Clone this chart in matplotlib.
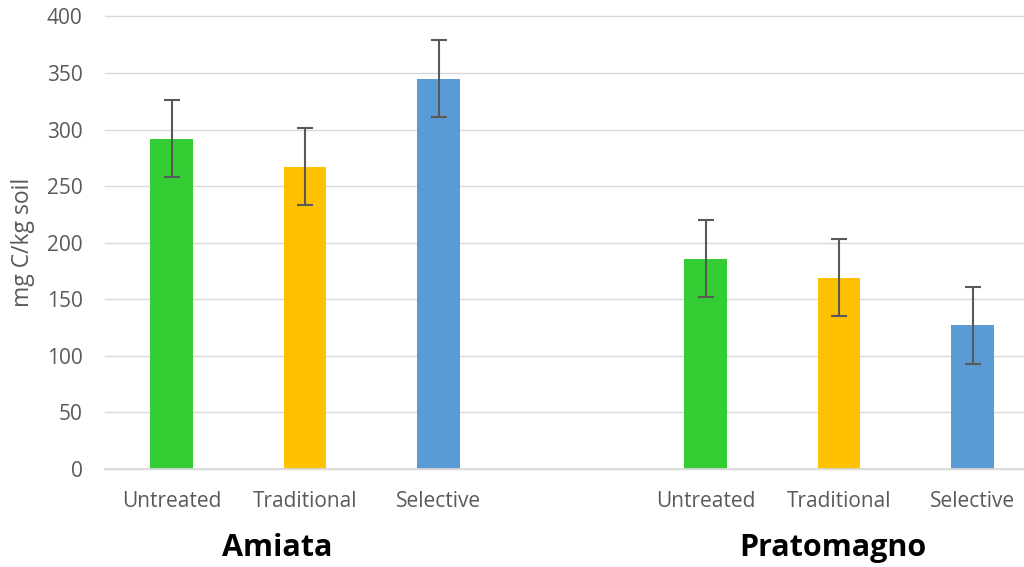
import matplotlib.pyplot as plt
import numpy as np

# data
treatments = ['Untreated', 'Traditional', 'Selective']
sites = ['Amiata', 'Pratomagno']
amiata = [292, 267, 345]
amiata_err = [34, 34, 34]
pratomagno = [186, 169, 127]
pratomagno_err = [34, 34, 34]
colors = ['#33CC33', '#FFC000', '#5B9BD5']

plt.rcParams['font.family'] = ['Open Sans', 'DejaVu Sans']
text_col = '#595959'

fig = plt.figure(figsize=(10.24, 5.67), dpi=100)
ax = fig.add_axes([104.75 / 1024, 1 - 469 / 567, 934.5 / 1024, 452.5 / 567])

# one empty slot between the two sites
x_am = np.arange(3)
x_pr = np.arange(3) + 4
ax.bar(x_am, amiata, width=0.32, color=colors, zorder=2)
ax.bar(x_pr, pratomagno, width=0.32, color=colors, zorder=2)
ax.errorbar(x_am, amiata, yerr=amiata_err, fmt='none', ecolor='#595959',
            elinewidth=1.5, capsize=6, capthick=1.5, zorder=3)
ax.errorbar(x_pr, pratomagno, yerr=pratomagno_err, fmt='none', ecolor='#595959',
            elinewidth=1.5, capsize=6, capthick=1.5, zorder=3)

ax.set_xlim(-0.5, 6.5)
ax.set_ylim(0, 400)
ax.set_yticks(np.arange(0, 401, 50))
ax.set_xticks(list(x_am) + list(x_pr))
ax.set_xticklabels(treatments + treatments)
ax.yaxis.grid(True, color='#D9D9D9', linewidth=1.0, zorder=0)
for gl in ax.get_ygridlines():
    gl.set_clip_on(False)
ax.set_axisbelow(True)
for s in ['top', 'right', 'left']:
    ax.spines[s].set_visible(False)
ax.spines['bottom'].set_color('#D9D9D9')
ax.spines['bottom'].set_linewidth(1.2)
ax.tick_params(axis='both', length=0, colors=text_col, labelsize=15)
ax.tick_params(axis='x', pad=16)
ax.tick_params(axis='y', pad=16)

fig.text(23 / 1024, 1 - 242 / 567, 'mg C/kg soil', rotation=90, ha='center',
         va='center', color=text_col, fontsize=16.5)

fig.text(277 / 1024, 1 - 548 / 567, sites[0], ha='center', va='center',
         fontsize=22, fontweight='bold', color='black')
fig.text(833 / 1024, 1 - 548 / 567, sites[1], ha='center', va='center',
         fontsize=22, fontweight='bold', color='black')

fig.savefig('out.png', dpi=100)
